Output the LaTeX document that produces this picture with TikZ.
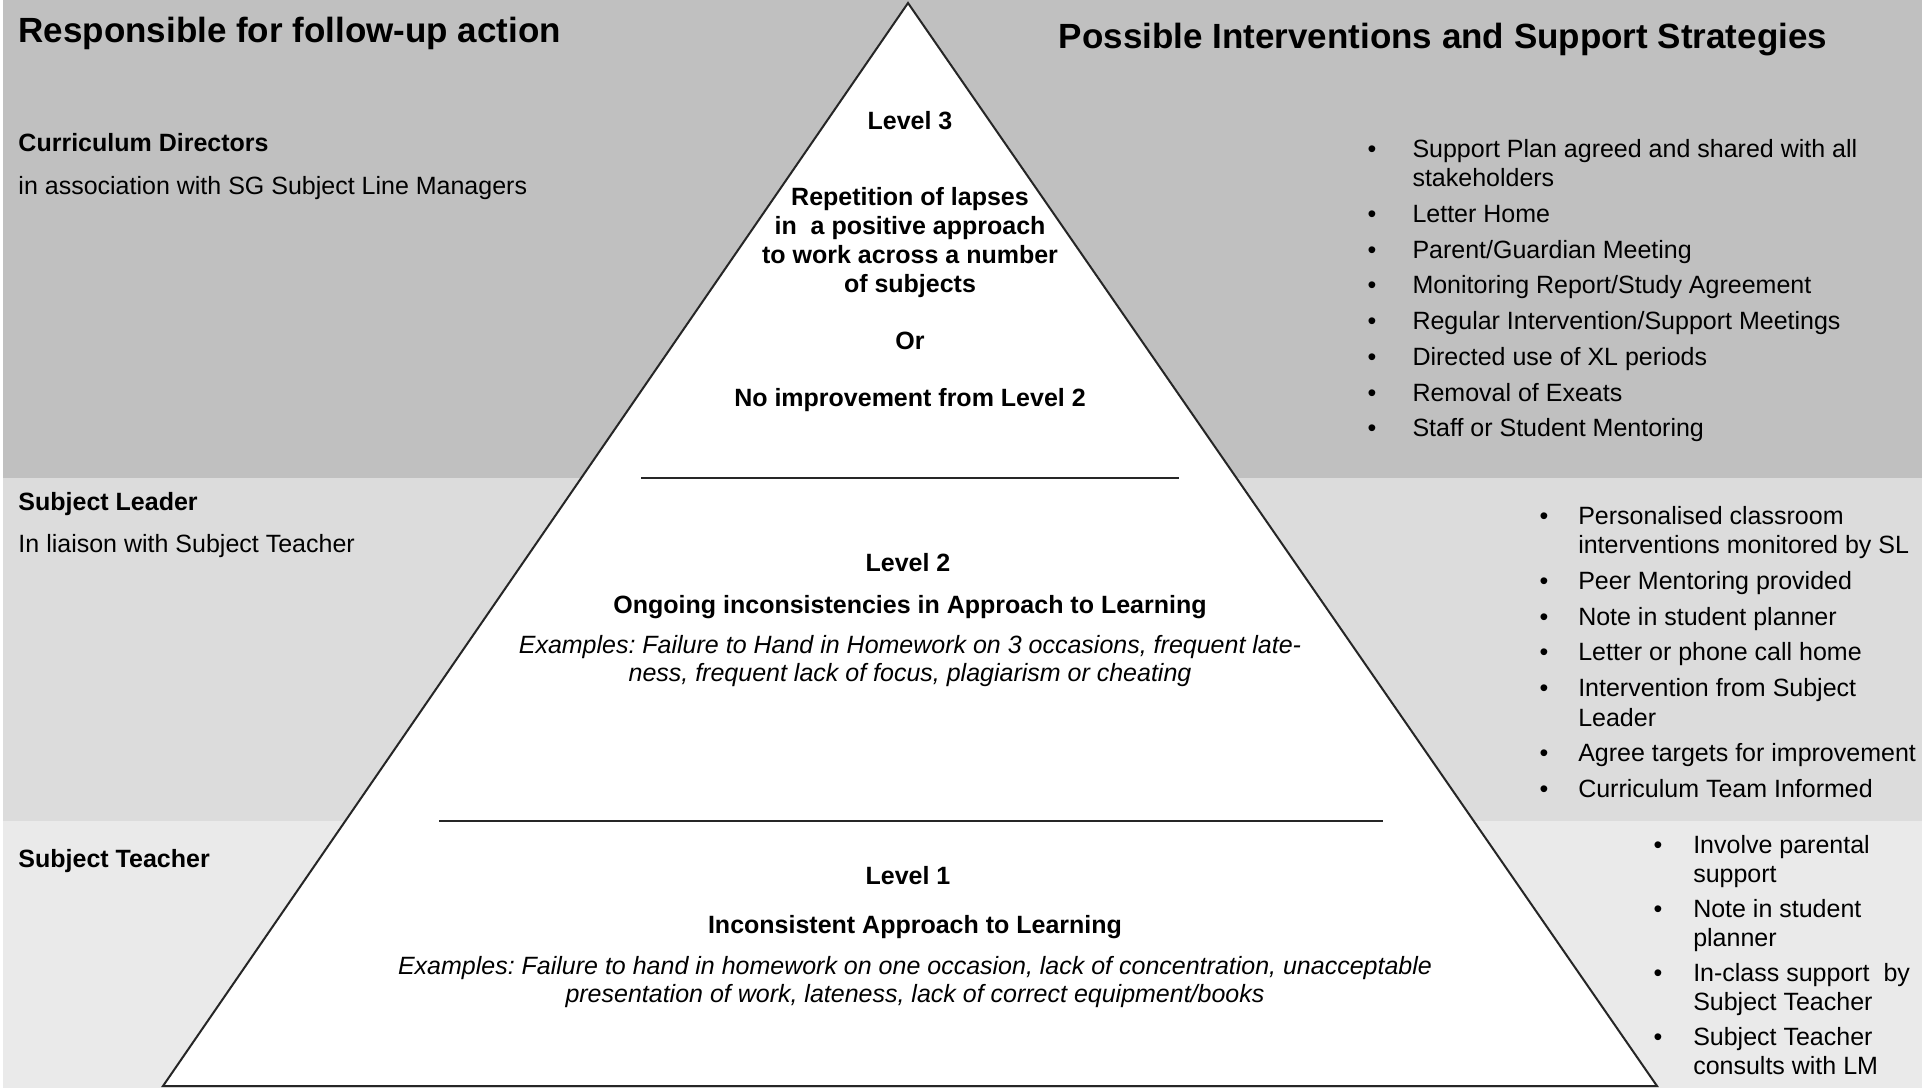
\documentclass[tikz,border=0pt]{standalone}
\usepackage{fontspec}
\setmainfont{Liberation Sans}
\frenchspacing
\definecolor{bandtop}{HTML}{C0C0C0}
\definecolor{bandmid}{HTML}{DCDCDC}
\definecolor{bandlow}{HTML}{EAEAEA}
\definecolor{rule}{HTML}{262626}
\tikzset{
 txt/.style={inner sep=0pt, font=\fontsize{10}{11.8}\selectfont},
 heading/.style={inner sep=0pt, font=\fontsize{14}{17}\selectfont\bfseries},
 lbl/.style={inner sep=0pt, font=\fontsize{10}{11.5}\selectfont\bfseries},
 lvl/.style={lbl, align=center, anchor=base},
 eg/.style={inner sep=0pt, font=\fontsize{10}{11.2}\selectfont\itshape, align=center, anchor=base},
 lvline/.style={draw=rule, line width=0.7pt}
}
% bulleted list of interventions: name, position, gap after bullet, rows
\newcommand{\actions}[4]{%
 \node[txt, anchor=base west] ({#1}) at ({#2}) {%
  \begin{tabular}[t]{@{}l@{\hspace{#3}}l@{}}#4\end{tabular}%
 };%
}

\begin{document}
\begin{tikzpicture}[x=0.4pt, y=-0.4pt]
 \useasboundingbox (0,0) rectangle (1922,1088);
 % background bands
 \fill[bandtop] (3,0) rectangle (1922,478);
 \fill[bandmid] (3,478) rectangle (1922,821);
 \fill[bandlow] (3,821) rectangle (1922,1088);

 % the pyramid
 \coordinate (apex) at (908,3);
 \coordinate (baseR) at (1657,1086);
 \coordinate (baseL) at (163,1086);
 \draw[draw=rule, line width=0.8pt, fill=white] (apex) -- (baseR) -- (baseL) -- cycle;
 \coordinate (cut3L) at (641,478);
 \coordinate (cut3R) at (1179,478);
 \coordinate (cut2L) at (439,821);
 \coordinate (cut2R) at (1383,821);
 \draw[lvline] (cut3L) -- (cut3R);
 \draw[lvline] (cut2L) -- (cut2R);

 % headings
 \node[heading, anchor=base west] (resp) at (18,42) {Responsible for follow-up action};
 \node[heading, anchor=base] (poss) at (1443,48) {Possible Interventions and Support Strategies};

 % who acts
 \node[lbl, anchor=base west] (cd) at (18,151) {Curriculum Directors};
 \node[txt, anchor=base west] (cdsg) at (18,194) {in association with SG Subject Line Managers};
 \node[lbl, anchor=base west] (sl) at (18,510) {Subject Leader};
 \node[txt, anchor=base west] (slst) at (18,552) {In liaison with Subject Teacher};
 \node[lbl, anchor=base west] (st) at (18,867) {Subject Teacher};

 % level 3 (base of a multi-line node = its last line)
 \node[lvl] (lv3) at (910,129) {Level 3};
 \node[lvl] (lv3txt) at (910,292) {Repetition of lapses\\in~ a positive approach\\to work across a number\\of subjects};
 \node[lvl] (lv3or) at (910,349) {Or};
 \node[lvl] (lv3imp) at (910,406) {No improvement from Level 2};
 % level 2
 \node[lvl] (lv2) at (908,571) {Level 2};
 \node[lvl] (lv2txt) at (910,613) {Ongoing inconsistencies in Approach to Learning};
 \node[eg] (lv2eg) at (910,681) {Examples: Failure to Hand in Homework on 3 occasions, frequent late-\\ness, frequent lack of focus, plagiarism or cheating};
 % level 1
 \node[lvl] (lv1) at (908,884) {Level 1};
 \node[lvl] (lv1txt) at (915,933) {Inconsistent Approach to Learning};
 \node[eg] (lv1eg) at (915,1002) {Examples: Failure to hand in homework on one occasion, lack of concentration, unacceptable\\presentation of work, lateness, lack of correct equipment/books};

 % interventions
 \actions{acts3}{1367,157}{14.5pt}{%
  \textbullet & Support Plan agreed and shared with all\\
   & stakeholders\\[2.5pt]
  \textbullet & Letter Home\\[2.5pt]
  \textbullet & Parent/Guardian Meeting\\[2.5pt]
  \textbullet & Monitoring Report/Study Agreement\\[2.5pt]
  \textbullet & Regular Intervention/Support Meetings\\[2.5pt]
  \textbullet & Directed use of XL periods\\[2.5pt]
  \textbullet & Removal of Exeats\\[2.5pt]
  \textbullet & Staff or Student Mentoring}
 \actions{acts2}{1539,524}{12pt}{%
  \textbullet & Personalised classroom\\
   & interventions monitored by SL\\[2.5pt]
  \textbullet & Peer Mentoring provided\\[2.5pt]
  \textbullet & Note in student planner\\[2.5pt]
  \textbullet & Letter or phone call home\\[2.5pt]
  \textbullet & Intervention from Subject\\
   & Leader\\[2.5pt]
  \textbullet & Agree targets for improvement\\[2.5pt]
  \textbullet & Curriculum Team Informed}
 \actions{acts1}{1653,853}{12.4pt}{%
  \textbullet & Involve parental\\
   & support\\[2pt]
  \textbullet & Note in student\\
   & planner\\[2pt]
  \textbullet & In-class support~ by\\
   & Subject Teacher\\[2pt]
  \textbullet & Subject Teacher\\
   & consults with LM}
\end{tikzpicture}
\end{document}
